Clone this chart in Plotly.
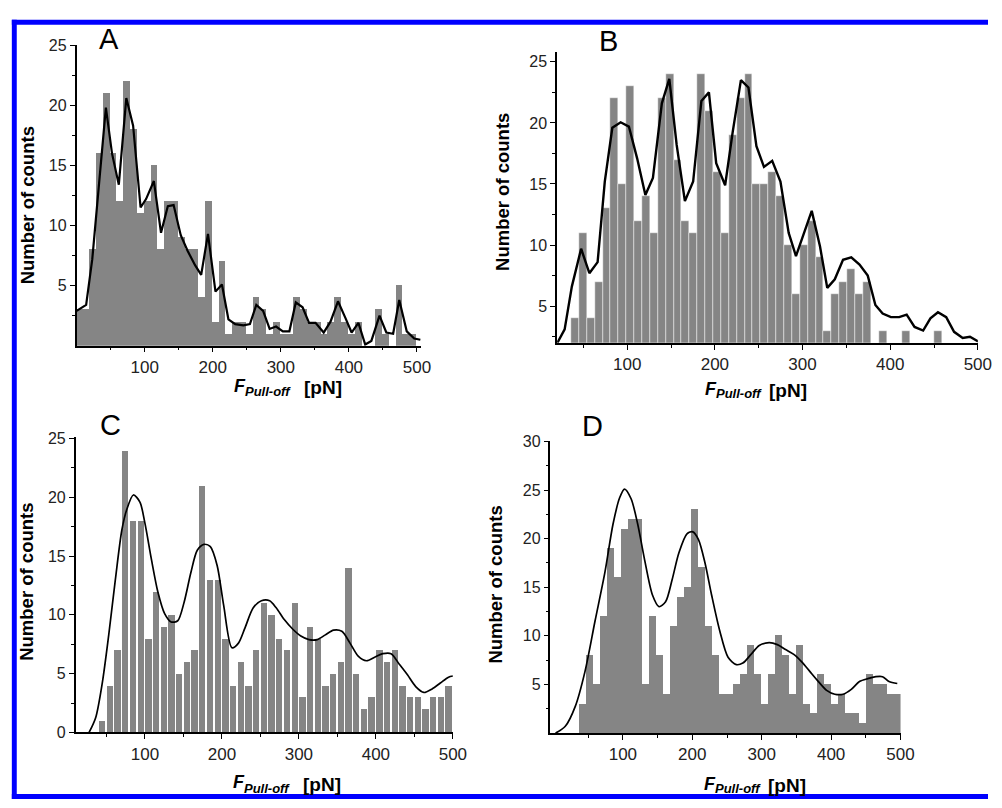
import plotly.graph_objects as go

W, H = 1002, 808

# ---------------- data ----------------
# Panel A (bins of 10 pN, first bin centred at 3 pN)
a_bin_start, a_bin_width = 3, 10
a_counts = [3, 3, 8, 16, 21, 16, 12, 22, 18, 11, 12, 15, 8, 12, 12, 9, 8, 8, 4, 12,
            2, 7, 1, 2, 2, 1, 4, 3, 1, 2, 1, 1, 4, 3, 2, 2, 1, 2, 4, 2,
            1, 2, 0, 0, 3, 1, 0, 5, 1, 1, 0]
a_curve_x = [0, 14, 23, 32, 43, 52, 62, 73, 83, 94, 102, 113.5, 124, 134, 142.5, 153, 163, 174,
             183, 193, 204, 213.5, 223, 233, 245, 254.6, 264, 274, 283.6, 293, 303, 312.6, 322,
             332, 341.5, 351, 363, 373, 384, 395, 404, 414, 424, 433, 445, 455, 465, 474, 485,
             496, 505]
a_curve_y = [2.9, 3.4, 7.2, 13, 19.8, 16, 13.4, 20.6, 18.3, 11.5, 12.2, 13.7, 9.4, 11.6, 11.7,
             9.2, 7.9, 6.7, 5.9, 9.3, 4.5, 5.1, 2.2, 1.8, 1.7, 1.8, 3.4, 2.9, 1.4, 1.6, 1.2, 1.2,
             3.6, 3.2, 1.9, 1.9, 1.1, 2.0, 3.7, 2.3, 1.1, 1.9, 0.1, 0.4, 2.5, 1.1, 1.0, 3.8, 1.2,
             0.6, 0.5]

# Panel B (bins of 9 pN, first bin centred at 40.5 pN)
b_bin_start, b_bin_width = 40.5, 9
b_counts = [4, 11, 4, 7, 13, 22, 15, 23, 12, 14, 11, 22, 24, 17, 12, 11, 24, 21, 16, 11,
            19, 22, 24, 15, 15, 16, 14, 10, 6, 10, 12, 9, 3, 6, 7, 8, 6, 7, 0, 3,
            0, 0, 3, 0, 0, 0, 3]
b_curve_x = [20.3, 28.6, 36.8, 47.4, 56.8, 66.2, 74.4, 83, 92.5, 101.9, 111.3, 120.7, 129.3,
             139.5, 148, 156.4, 165.8, 175.2, 184.6, 193.2, 201.5, 211.7, 220.3, 229.7, 238.3,
             247.4, 256, 265.4, 274.8, 284.2, 292.5, 301.9, 310.5, 319.9, 328.2, 336.8, 346.2,
             355.6, 365, 374.4, 383.1, 391.4, 400.8, 410.2, 418.8, 427.8, 437.6, 445.9, 454.5,
             463.9, 472.9, 482.7, 491, 500.4]
b_curve_y = [2.0, 3.1, 6.6, 9.7, 7.7, 8.6, 15.2, 19.6, 20.05, 19.7, 17.1, 14.1, 15.5, 21.6,
             23.6, 18.2, 13.6, 15.2, 21.8, 22.5, 16.7, 14.9, 19.25, 23.5, 22.9, 18.1, 16.4,
             16.9, 15.2, 11, 9.1, 11, 12.8, 9.9, 6.5, 7.2, 8.8, 9.0, 8.4, 7.5, 5.1, 4.4, 4.1,
             4.1, 4.3, 3.3, 3.0, 4.0, 4.5, 4.1, 2.9, 2.4, 2.5, 2.1]

# Panel C (bins of 10 pN, first bin centred at 44 pN)
c_bin_start, c_bin_width = 44, 10
c_counts = [1, 4, 7, 24, 18, 18, 8, 12, 9, 10, 5, 6, 7, 21, 13, 13, 8, 4, 6, 4,
            7, 11, 10, 8, 7, 11, 3, 9, 8, 4, 5, 6, 14, 5, 2, 3, 7, 6, 7, 4,
            3, 3, 2, 3, 3, 4]
c_curve_x = [27.5, 36, 44.6, 53, 61.6, 70, 76.6, 85, 93.5, 100, 108.5, 117, 125.6, 134, 142.6,
             151, 159.7, 168, 176.7, 185, 193.8, 202.3, 213, 221.5, 230, 240.7, 251.3, 262,
             270.5, 281, 291.8, 302.5, 313, 323.8, 334.4, 345, 355.8, 366.4, 377, 387.7, 398.4,
             409, 419.7, 430.4, 441, 451.7, 462.3, 473, 483.7, 494.3, 500]
c_curve_y = [0, 1.25, 4.2, 8.3, 13, 17.2, 19.0, 20.2, 19.6, 17.8, 14.7, 11.9, 10.1, 9.4, 9.5,
             11.1, 13.6, 15.5, 16.0, 15.8, 14.2, 10.8, 7.2, 7.6, 8.9, 10.6, 11.2, 11.2, 10.6,
             9.6, 8.8, 8.2, 7.9, 7.9, 8.3, 8.7, 8.6, 7.6, 6.5, 6.1, 6.4, 6.7, 6.7, 5.8, 4.9,
             3.9, 3.4, 3.7, 4.2, 4.7, 4.8]

# Panel D (bins of ~10 pN, first bin centred at 42 pN)
d_bin_start, d_bin_width = 42, 10.1
d_counts = [3, 8, 5, 12, 19, 16, 21, 22, 22, 5, 12, 8, 4, 11, 14, 15, 23, 17, 11, 8,
            4, 4, 5, 6, 9, 6, 3, 6, 10, 8, 4, 9, 3, 2, 6, 5, 3, 4, 2, 2,
            1, 6, 5, 5, 4, 4]
d_curve_x = [3, 17, 31.4, 45.6, 59.8, 74, 85.8, 95.3, 102.4, 111.8, 121.3, 130.8, 142.6, 152,
             161.5, 171, 180.5, 192.3, 200.8, 208.9, 218.3, 227.8, 239.6, 251.5, 263.3, 272.8,
             284.6, 296.4, 310.7, 322.5, 334.3, 346.2, 358, 369.8, 381.7, 393.5, 405.3, 417.2,
             429, 440.8, 452.7, 464.5, 474, 483.4, 495.3]
d_curve_y = [0, 0.7, 2.75, 6.4, 11.5, 16.5, 21.5, 24.2, 25.1, 24.1, 21.5, 18, 14.2, 13, 13.5,
             15.8, 18.5, 20.5, 20.7, 19.9, 17.5, 14.2, 10.5, 7.8, 7.05, 7.2, 8.1, 9.0, 9.3, 9.1,
             8.6, 8.1, 7.3, 6.3, 5.3, 4.4, 4.0, 4.0, 4.5, 5.3, 5.6, 5.8, 5.8, 5.3, 5.1]

x_major = [100, 200, 300, 400, 500]
x_minor = [50, 150, 250, 350, 450]

panel_letters = ["A", "B", "C", "D"]
y_title = "Number of counts"
x_title_main, x_title_sub, x_title_unit = "F", "Pull-off", "[pN]"

# ---------------- layout helpers ----------------
def dom_x(l, r):
    return [l / W, r / W]

def dom_y(top, bottom):
    return [1 - bottom / H, 1 - top / H]

FAMILY = "Liberation Sans, Arial, sans-serif"
BAR = "#858585"
XTICKFONT = dict(family=FAMILY, size=17, color="#222")
YTICKFONT = dict(family=FAMILY, size=16, color="#222")

panels = [
    dict(start=a_bin_start, width=a_bin_width, counts=a_counts, cx=a_curve_x, cy=a_curve_y,
         xd=(77.7, 427), yd=(38, 345), xr=[0, 506], yr=[0, 25],
         ymaj=[5, 10, 15, 20, 25], ymin=[2.5, 7.5, 12.5, 17.5, 22.5], bw=1.0,
         shape="linear", lw=2.2, sep=0),
    dict(start=b_bin_start, width=b_bin_width, counts=b_counts, cx=b_curve_x, cy=b_curve_y,
         xd=(565, 991.7), yd=(45, 342), xr=[20, 500], yr=[2, 25.8],
         ymaj=[5, 10, 15, 20, 25], ymin=[2.5, 7.5, 12.5, 17.5, 22.5], bw=1.0,
         shape="linear", lw=2.4, sep=0.6),
    dict(start=c_bin_start, width=c_bin_width, counts=c_counts, cx=c_curve_x, cy=c_curve_y,
         xd=(76.7, 459.3), yd=(438, 740), xr=[10, 500], yr=[0, 25.15],
         ymaj=[0, 5, 10, 15, 20, 25], ymin=[2.5, 7.5, 12.5, 17.5, 22.5], bw=0.82,
         shape="spline", lw=1.7, sep=0),
    dict(start=d_bin_start, width=d_bin_width, counts=d_counts, cx=d_curve_x, cy=d_curve_y,
         xd=(558.3, 913.3), yd=(442.7, 740.7), xr=[-4.3, 500], yr=[0, 30],
         ymaj=[5, 10, 15, 20, 25, 30], ymin=[2.5, 7.5, 12.5, 17.5, 22.5, 27.5], bw=1.0,
         shape="spline", lw=1.7, sep=0),
]

fig = go.Figure()
layout = dict(width=W, height=H, margin=dict(l=0, r=0, t=0, b=0),
              paper_bgcolor="white", plot_bgcolor="white", showlegend=False,
              bargap=0)

for i, p in enumerate(panels, start=1):
    xa = "x" if i == 1 else f"x{i}"
    ya = "y" if i == 1 else f"y{i}"
    centers = [p["start"] + p["width"] * k for k in range(len(p["counts"]))]
    fig.add_trace(go.Bar(
        x=centers, y=p["counts"], width=p["width"] * p["bw"],
        marker=dict(color=BAR, line=dict(color="rgba(255,255,255,0.75)", width=p["sep"])),
        xaxis=xa, yaxis=ya, hoverinfo="skip"))
    fig.add_trace(go.Scatter(
        x=p["cx"], y=p["cy"], mode="lines",
        line=dict(color="black", width=p["lw"], shape=p["shape"], smoothing=0.8),
        xaxis=xa, yaxis=ya, cliponaxis=True, hoverinfo="skip"))
    axis_common = dict(showline=True, linecolor="black", linewidth=1.5, ticks="outside",
                       ticklen=5, tickwidth=1.3, tickcolor="black", showgrid=False,
                       zeroline=False)
    xkey = "xaxis" if i == 1 else f"xaxis{i}"
    ykey = "yaxis" if i == 1 else f"yaxis{i}"
    layout[xkey] = dict(domain=dom_x(*p["xd"]), range=p["xr"], anchor=ya,
                        tickmode="array", tickvals=x_major, ticktext=[str(v) for v in x_major],
                        tickfont=XTICKFONT,
                        minor=dict(tickmode="array", tickvals=x_minor, ticks="outside",
                                   ticklen=3, tickwidth=1, tickcolor="black"),
                        **axis_common)
    layout[ykey] = dict(domain=dom_y(*p["yd"]), range=p["yr"], anchor=xa,
                        tickmode="array", tickvals=p["ymaj"], ticktext=[str(v) for v in p["ymaj"]],
                        tickfont=YTICKFONT,
                        minor=dict(tickmode="array", tickvals=p["ymin"], ticks="outside",
                                   ticklen=3, tickwidth=1, tickcolor="black"),
                        **axis_common)

fig.update_layout(**layout)

# ---------------- text ----------------
def px(x):
    return x / W

def py(y):
    return 1 - y / H

def note(text, x, y, size, xanchor="center", angle=0, weight="normal", style="normal"):
    fig.add_annotation(text=text, x=px(x), y=py(y), xref="paper", yref="paper",
                       showarrow=False, xanchor=xanchor, yanchor="middle", textangle=angle,
                       borderpad=0, borderwidth=0,
                       font=dict(family=FAMILY, size=size, color="black",
                                 weight=weight, style=style))

letter_pos = [(111, 32), (617, 34), (112, 426), (601, 427)]
for t, (x, y) in zip(panel_letters, letter_pos):
    note(t, x, y, 29)

ylabel_pos = [(28, 202), (509, 188), (27.5, 586), (503, 589)]
for x, y in ylabel_pos:
    note(y_title, x, y, 18.5, angle=-90, weight="bold")

# x-axis titles: (F right edge, subscript left edge, unit left edge, F centre y, sub centre y, unit centre y)
xlabel_pos = [(249, 248, 308, 386, 392, 388),
              (727, 726, 780, 389.5, 394, 391),
              (248, 247, 307, 791, 797, 793),
              (726, 725, 779, 792.5, 797, 794)]
for fr, sl, ul, yf, ys, yu in xlabel_pos:
    note(x_title_main, fr, yf, 18, xanchor="right", weight="bold", style="italic")
    note(x_title_sub, sl, ys, 13, xanchor="left", weight="bold", style="italic")
    note(x_title_unit, ul, yu, 19, xanchor="left", weight="bold")

# ---------------- blue frame ----------------
BLUE = "#0000ff"
frame = [
    (12, 12, 1002, 17),   # top
    (12, 12, 17, 808),    # left
    (12, 803, 1002, 808), # bottom
]
for x0, y0, x1, y1 in frame:
    fig.add_shape(type="rect", xref="paper", yref="paper",
                  x0=px(x0), x1=px(x1), y0=py(y1), y1=py(y0),
                  fillcolor=BLUE, line=dict(width=0), layer="above")

fig.write_html("out.html")
